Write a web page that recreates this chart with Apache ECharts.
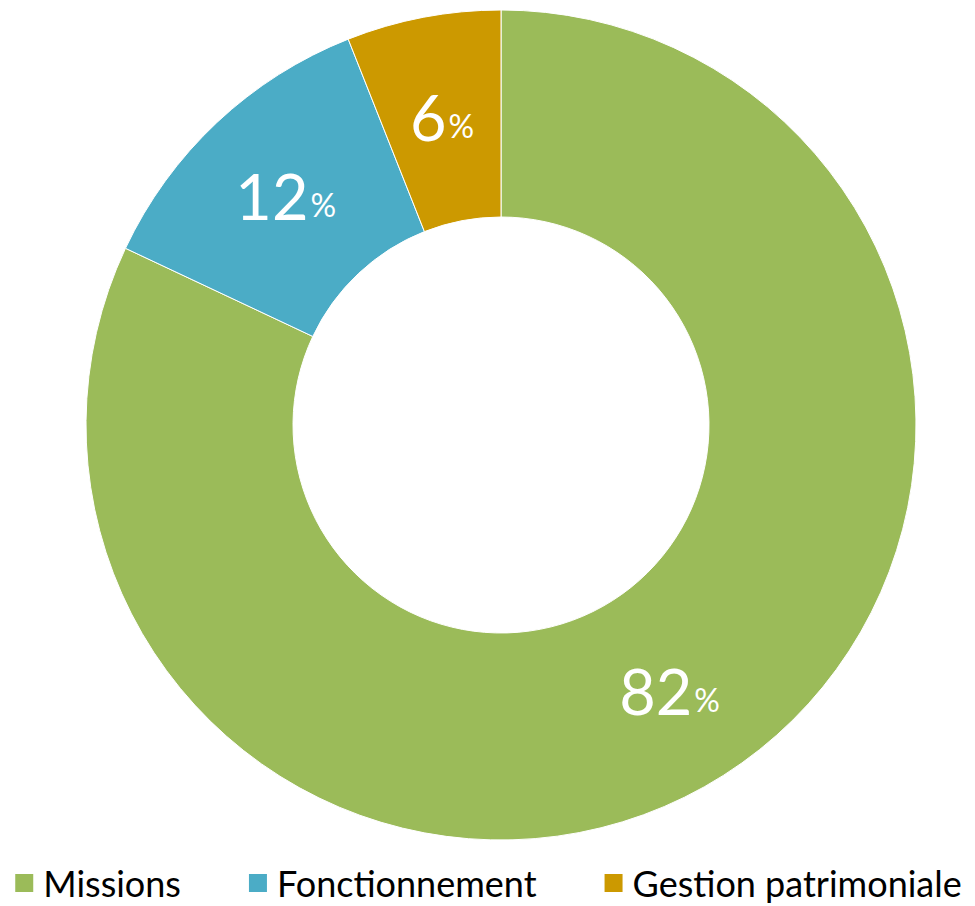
<!DOCTYPE html>
<html>
<head>
<meta charset="utf-8">
<script src="https://cdn.jsdelivr.net/npm/echarts@6/dist/echarts.min.js"></script>
<style>
  html, body { margin: 0; padding: 0; background: #fff; }
  #chart { width: 975px; height: 906px; }
</style>
</head>
<body>
<div id="chart"></div>
<script>
var categories = ["Missions", "Fonctionnement", "Gestion patrimoniale"];
var values = [82, 12, 6];
var colors = ["#9BBB59", "#4BACC6", "#CC9900"];

var pieData = [];
for (var i = 0; i < categories.length; i++) {
  pieData.push({ name: categories[i], value: values[i], itemStyle: { color: colors[i] } });
}

var myChart = echarts.init(document.getElementById("chart"), null, { renderer: "svg" });
var option = {
  animation: false,
  legend: {
    bottom: 0,
    left: "center",
    itemWidth: 20,
    itemHeight: 20,
    itemGap: 66,
    icon: "rect",
    textStyle: { fontFamily: "Lato", fontSize: 36, color: "#000", padding: [0, 0, 0, 4] },
    data: categories
  },
  series: [
    {
      type: "pie",
      center: [501, 425],
      radius: [208, 415],
      startAngle: 90,
      clockwise: true,
      itemStyle: { borderColor: "#fff", borderWidth: 1 },
      label: {
        show: true,
        position: "inside",
        formatter: function (p) {
          return "{v|" + p.value + "}{p|%}";
        },
        rich: {
          v: { fontFamily: "Lato", fontSize: 63, color: "#fff" },
          p: { fontFamily: "Lato", fontSize: 32, color: "#fff", padding: [18, 0, 0, 2] }
        }
      },
      labelLine: { show: false },
      data: pieData
    }
  ]
};
option && myChart.setOption(option);
</script>
</body>
</html>
